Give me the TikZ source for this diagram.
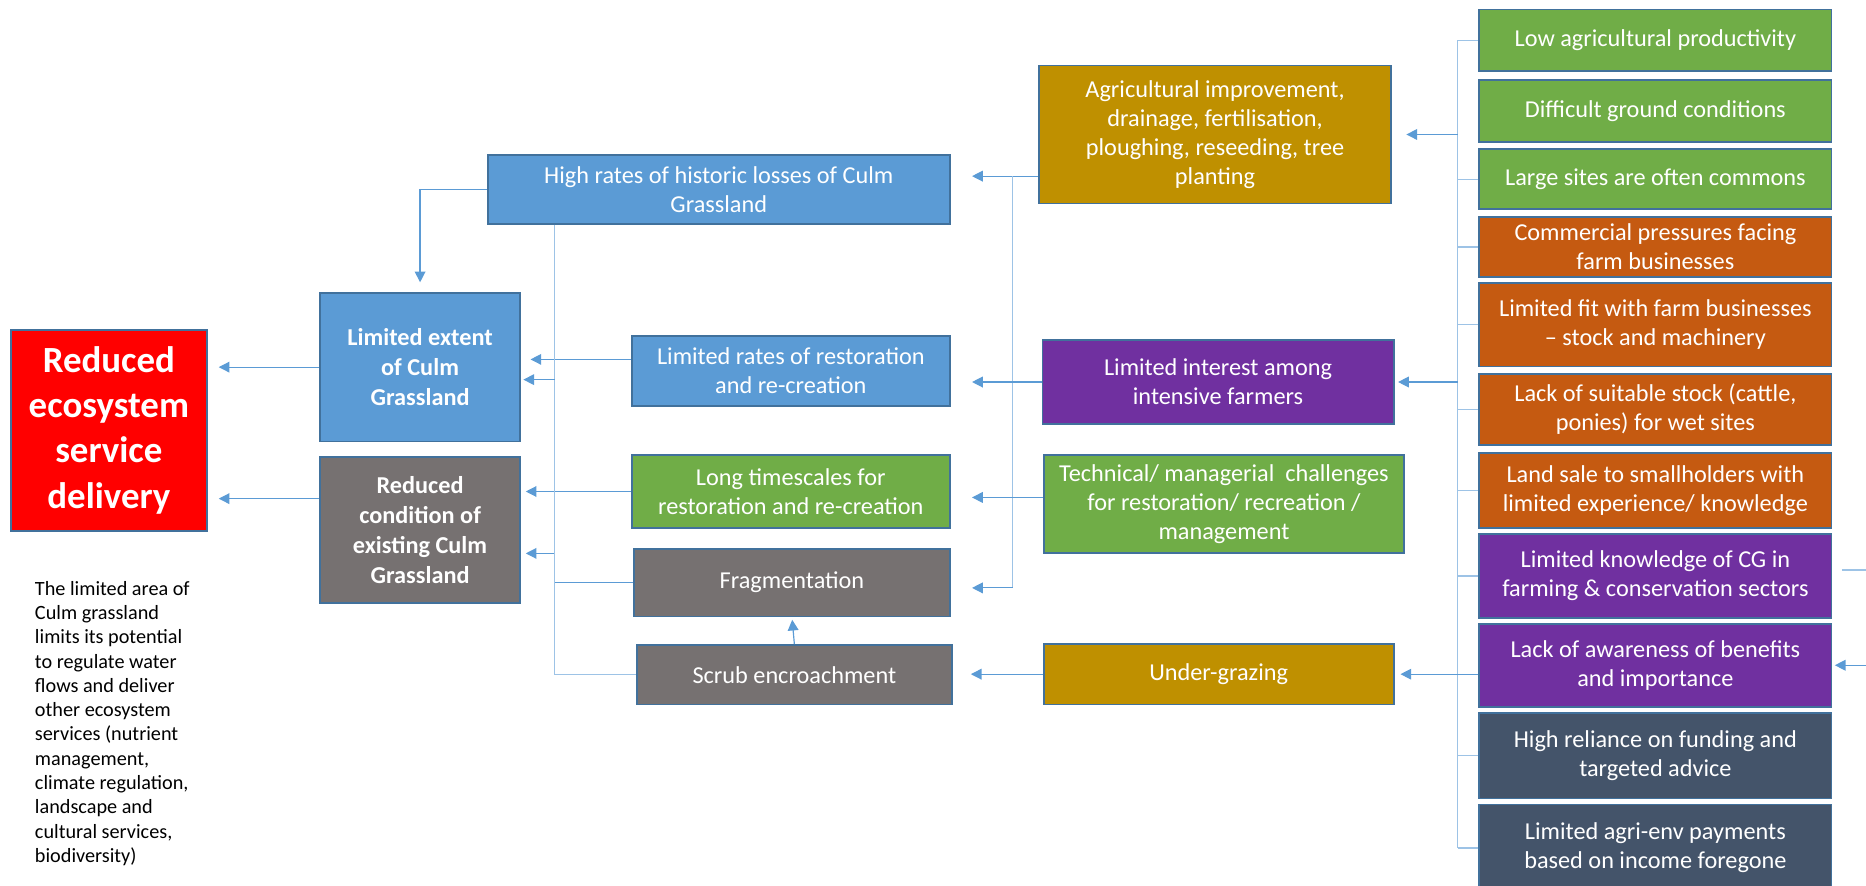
\documentclass[tikz,border=0pt]{standalone}
\usepackage{fontspec}
\setmainfont{Carlito}
\usetikzlibrary{arrows.meta}

\definecolor{boxline}{HTML}{41719C}
\definecolor{cgblue}{HTML}{5B9BD5}
\definecolor{cggreen}{HTML}{70AD47}
\definecolor{cggold}{HTML}{BF9000}
\definecolor{cgorange}{HTML}{C55A11}
\definecolor{cgpurple}{HTML}{7030A0}
\definecolor{cggrey}{HTML}{767171}
\definecolor{cgslate}{HTML}{44546A}
\definecolor{cgred}{HTML}{FF0000}
\definecolor{linkblue}{HTML}{5B9BD5}
\definecolor{buslight}{HTML}{9DC3E6}

\tikzset{
  box/.style={draw=boxline, line width=0.8pt, text=white, align=center, inner sep=2pt,
    font=\fontsize{10.2}{12.2}\selectfont},
  bold box/.style={font=\fontsize{10.2}{12.5}\selectfont\bfseries},
  red box/.style={font=\fontsize{15.5}{19}\selectfont\bfseries},
  note/.style={anchor=north west, align=left, inner sep=0pt, font=\fontsize{8.5}{10.2}\selectfont},
  link/.style={draw=linkblue, line width=0.5pt, ->},
  bus/.style={draw=buslight, line width=0.5pt}
}

\begin{document}
\begin{tikzpicture}[x=0.5pt, y=-0.5pt, >={Triangle[length=4.5pt, width=4.5pt]}]

\useasboundingbox (0,0) rectangle (1568,744);

\node [box, red box, fill=cgred, minimum width=82.5pt, minimum height=84.5pt] (delivery) at (91.5,361.5) {Reduced\\ecosystem\\service\\delivery};

\node [box, bold box, fill=cgblue, minimum width=84pt, minimum height=62.5pt] (extent) at (353,308.5) {Limited extent\\of Culm\\Grassland};
\node [box, bold box, fill=cggrey, minimum width=84pt, minimum height=61.5pt] (condition) at (353,445.5) {Reduced\\condition of\\existing Culm\\Grassland};

\node [note] (summary) at (29,488) {The limited area of\\Culm grassland\\limits its potential\\to regulate water\\flows and deliver\\other ecosystem\\services (nutrient\\management,\\climate regulation,\\landscape and\\cultural services,\\biodiversity)};

\node [box, fill=cgblue, minimum width=194pt, minimum height=29pt] (losses) at (604,159) {High rates of historic losses of Culm\\Grassland};
\node [box, fill=cgblue, minimum width=133.5pt, minimum height=29.5pt] (rates) at (664.5,311.5) {Limited rates of restoration\\and re-creation};
\node [box, fill=cggreen, minimum width=133.5pt, minimum height=31pt] (timescales) at (664.5,413) {Long timescales for\\restoration and re-creation};
\node [box, fill=cggrey, minimum width=132.5pt, minimum height=28.5pt] (fragment) at (665.5,489.5) {Fragmentation};
\node [box, fill=cggrey, minimum width=132.5pt, minimum height=25pt] (scrub) at (667.5,567) {Scrub encroachment};

\node [box, fill=cggold, minimum width=148pt, minimum height=58pt] (improve) at (1021,113) {Agricultural improvement,\\drainage, fertilisation,\\ploughing, reseeding, tree\\planting};
\node [box, fill=cgpurple, minimum width=147.5pt, minimum height=35pt] (interest) at (1023.5,321) {Limited interest among\\intensive farmers};
\node [box, fill=cggreen, minimum width=151.5pt, minimum height=41.5pt] (technical) at (1028.5,423.5) {Technical/ managerial\ \ challenges\\for restoration/ recreation /\\management};
\node [box, fill=cggold, minimum width=147pt, minimum height=25.5pt] (grazing) at (1024,566.5) {Under-grazing};

\foreach \id/\col/\ya/\yb/\txt in {
    low/cggreen/7/59/{Low agricultural productivity},
    ground/cggreen/66/118/{Difficult ground conditions},
    commons/cggreen/124/175/{Large sites are often commons},
    commercial/cgorange/181/232/{Commercial pressures facing\\farm businesses},
    fit/cgorange/237/307/{Limited fit with farm businesses\\– stock and machinery},
    stock/cgorange/313/373/{Lack of suitable stock (cattle,\\ponies) for wet sites},
    sale/cgorange/380/443/{Land sale to smallholders with\\limited experience/ knowledge},
    knowledge/cgpurple/448/518/{Limited knowledge of CG in\\farming \& conservation sectors},
    awareness/cgpurple/523/593/{Lack of awareness of benefits\\and importance},
    reliance/cgslate/598/670/{High reliance on funding and\\targeted advice},
    payments/cgslate/675/748/{Limited agri-env payments\\based on income foregone}}
  \node [box, fill=\col, minimum width=148pt, minimum height={(\yb-\ya)*0.5pt}] (\id) at (1391,{(\ya+\yb)/2+1}) {\txt};

\coordinate (trunk) at (466,0);
\coordinate (bus-mid) at (851,0);
\coordinate (bus-right) at (1225,0);
\coordinate (edge) at (1568,0);

\draw [link, shorten >=4.5pt] (extent.west) -- (extent.west -| delivery.east);
\draw [link, shorten >=4.5pt] (condition.west |- 0,419) -- (delivery.east |- 0,419);

\draw [link, shorten >=4pt] (losses.west) -| (extent.north);
\draw [link, shorten >=4pt] (rates.west |- 0,302) -- (extent.east |- 0,302);
\draw [link, shorten >=2pt] (timescales.west) -- (timescales.west -| condition.east);
\draw [link, shorten >=2pt] (fragment.west) -| (trunk |- 0,465) -- (condition.east |- 0,465);

\draw [bus] (losses.south -| trunk) |- (scrub.west);
\draw [link, shorten >=1pt] (trunk |- 0,319) -- (extent.east |- 0,319);

\draw [link, shorten >=1pt] (scrub.north) -- (fragment.south);

\draw [link, shorten >=9pt] (improve.west |- 0,148) -- (losses.east |- 0,148);
\draw [bus] (bus-mid |- 0,148) -- (bus-mid |- 0,494);
\draw [link, shorten >=9pt] (bus-mid |- 0,494) -- (fragment.east |- 0,494);
\draw [link, shorten >=9pt] (interest.west) -- (interest.west -| rates.east);
\draw [link, shorten >=9pt] (technical.west |- 0,418) -- (timescales.east |- 0,418);
\draw [link, shorten >=7.5pt] (grazing.west) -- (grazing.west -| scrub.east);

\draw [bus] (low.west -| bus-right) -- (payments.west -| bus-right);
\foreach \id in {low,commons,commercial,fit,stock,sale,knowledge,reliance,payments}
  \draw [bus] (\id.west) -- (\id.west -| bus-right);

\draw [link, shorten >=6pt] (improve.east -| bus-right) -- (improve.east);
\draw [link, shorten >=1.5pt] (interest.east -| bus-right) -- (interest.east);
\draw [link, shorten >=2.5pt] (grazing.east -| awareness.west) -- (grazing.east);

\draw [bus, shorten <=4pt] (knowledge.east |- 0,479) -- (edge |- 0,479);
\draw [link, shorten >=1pt] (edge |- 0,559) -- (awareness.east |- 0,559);

\end{tikzpicture}
\end{document}
